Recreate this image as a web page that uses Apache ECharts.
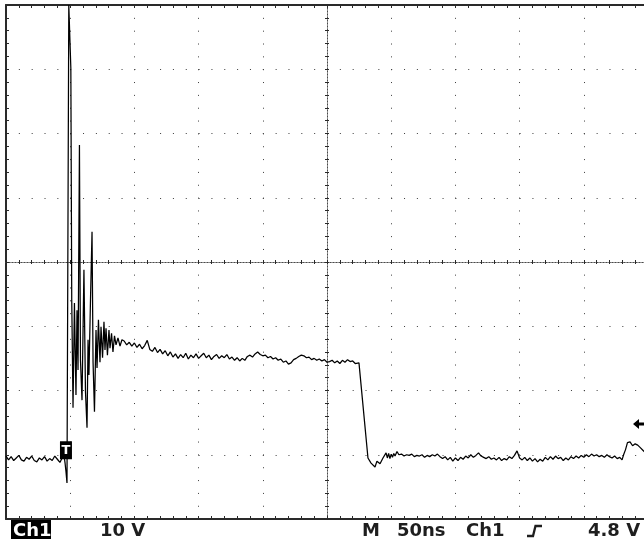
<!DOCTYPE html>
<html>
<head>
<meta charset="utf-8">
<script src="https://cdn.jsdelivr.net/npm/echarts@6/dist/echarts.min.js"></script>
<style>
  html, body { margin: 0; padding: 0; background: #fff; }
  #chart { width: 644px; height: 544px; }
</style>
</head>
<body>
<div id="chart"></div>
<script>
// screen: 10 div x 50 ns, 8 div x 10 V; time relative to screen centre
const timeMin = -250, timeMax = 250, timeStep = 50;
const voltMin = -40, voltMax = 40, voltStep = 10;
const triggerLevel = -25.2; // 4.8 V above the ground line
const triggerMark = [-203.3, -29.3];

// [ns, V]
const preTrigger = [
  [-250, -30.2], [-248, -30.8], [-246, -30.3], [-244, -30.9], [-242, -30.5], [-240, -30.1],
  [-238, -30.8], [-236, -31.0], [-234, -30.4], [-232, -30.7], [-230, -30.2], [-228, -30.9],
  [-226, -31.1], [-224, -30.5], [-222, -30.8], [-220, -30.3], [-218, -31.0], [-216, -30.6],
  [-214, -30.9], [-212, -30.2], [-210, -30.7], [-208, -31.2], [-206, -30.4], [-205, -29.8],
  [-204, -31.3]
];
const triggerEdge = [
  [-203.3, -32.6], [-202.5, -34.4], [-201.1, 40], [-200.0, 40], [-199.5, 30.2], [-198.8, -5.9]
];
const ringing = [
  [-197.8, -22.7], [-196.7, -6.4], [-195.5, -20.7], [-194.7, -7.5], [-193.9, -16.8],
  [-192.8, 18.2], [-192.0, -15.3], [-190.8, -21.5], [-190.0, -10.6], [-189.3, -1.2],
  [-188.1, -20.2], [-186.9, -25.8], [-186.1, -12.1], [-185.4, -17.6], [-184.2, -5.9],
  [-183.0, 4.7], [-182.2, -15.6], [-181.1, -23.3], [-179.9, -10.6], [-179.1, -16.5],
  [-178.0, -9.0], [-176.8, -15.6], [-176.0, -10.1], [-174.8, -14.9], [-173.7, -9.3],
  [-172.9, -13.7], [-172.1, -10.3], [-171.0, -14.5], [-169.8, -10.6], [-169.0, -13.4],
  [-167.8, -11.1], [-166.7, -14.0], [-165.5, -11.5], [-164.3, -12.9], [-162.8, -11.8],
  [-161.2, -13.1], [-159.7, -12.1]
];
const plateau = [
  [-158, -12.3], [-156, -12.9], [-154, -12.5], [-152, -13.1], [-150, -12.6], [-148, -13.3],
  [-146, -12.8], [-144, -13.5], [-142, -13.0], [-140, -12.2], [-138, -13.6], [-136, -13.9],
  [-134, -13.3], [-132, -14.1], [-130, -13.6], [-128, -14.3], [-126, -13.8], [-124, -14.6],
  [-122, -14.0], [-120, -14.8], [-118, -14.3], [-116, -15.0], [-114, -14.4], [-112, -14.9],
  [-110, -14.2], [-108, -15.1], [-106, -14.5], [-104, -14.9], [-102, -14.3], [-100, -15.0],
  [-98, -14.6], [-96, -14.2], [-94, -14.9], [-92, -14.5], [-90, -15.2], [-88, -14.7],
  [-86, -14.4], [-84, -15.0], [-82, -14.6], [-80, -14.9], [-78, -14.4], [-76, -15.1],
  [-74, -14.8], [-72, -15.3], [-70, -14.9], [-68, -15.4], [-66, -15.0], [-64, -15.3],
  [-62, -14.7], [-60, -14.5], [-58, -14.8], [-56, -14.3], [-54, -14.0], [-52, -14.4],
  [-50, -14.6], [-48, -14.5], [-46, -14.9], [-44, -14.7], [-42, -15.1], [-40, -14.9],
  [-38, -15.3], [-36, -15.1], [-34, -15.6], [-32, -15.4], [-30, -15.9], [-28, -15.7],
  [-26, -15.2], [-24, -15.0], [-22, -14.7], [-20, -14.5], [-18, -14.6], [-16, -14.9],
  [-14, -14.8], [-12, -15.2], [-10, -15.0], [-8, -15.3], [-6, -15.1], [-4, -15.4],
  [-2, -15.2], [0, -15.6], [2, -15.5], [4, -15.3], [6, -15.7], [8, -15.4],
  [10, -15.8], [12, -15.3], [14, -15.6], [16, -15.2], [18, -15.5], [20, -15.4],
  [22, -15.8], [23.5, -16.0]
];
const fallingEdge = [
  [24.9, -15.7], [31.9, -30.5], [34.3, -31.3], [37.4, -31.9], [38.9, -31.0],
  [41.3, -31.4], [43.6, -30.5]
];
const tail = [
  [45, -30.2], [46, -29.7], [47, -30.5], [48, -29.8], [49, -30.6], [50, -29.9],
  [51, -30.4], [52, -29.8], [53, -30.2], [54.5, -29.5], [56, -30.0], [58, -29.9],
  [60, -30.2], [62, -30.0], [64, -30.1], [66, -29.9], [68, -30.3], [70, -30.1],
  [72, -30.2], [74, -30.0], [76, -30.4], [78, -30.1], [80, -30.3], [82, -30.0],
  [84, -30.2], [86, -29.9], [88, -30.3], [90, -30.6], [92, -30.3], [94, -30.8],
  [96, -30.4], [98, -31.0], [100, -30.5], [102, -30.9], [104, -30.4], [106, -30.7],
  [108, -30.2], [110, -30.5], [112, -30.0], [114, -30.4], [116, -30.1], [118, -29.7],
  [120, -30.2], [122, -30.4], [124, -30.6], [126, -30.3], [128, -30.7], [130, -30.5],
  [132, -30.8], [134, -30.4], [136, -30.9], [138, -30.6], [140, -30.8], [142, -30.3],
  [144, -30.6], [146, -30.1], [148, -29.4], [150, -30.5], [152, -30.8], [154, -30.4],
  [156, -30.9], [158, -30.5], [160, -31.0], [162, -30.6], [164, -31.1], [166, -30.7],
  [168, -31.0], [170, -30.4], [172, -30.8], [174, -30.3], [176, -30.7], [178, -30.2],
  [180, -30.6], [182, -30.4], [184, -30.9], [186, -30.5], [188, -30.8], [190, -30.3],
  [192, -30.6], [194, -30.2], [196, -30.5], [198, -30.1], [200, -30.4], [202, -30.0],
  [204, -30.3], [206, -29.9], [208, -30.2], [210, -30.0], [212, -30.3], [214, -30.1],
  [216, -30.4], [218, -30.0], [220, -30.3], [222, -30.5], [224, -30.2], [226, -30.6],
  [228, -30.4], [229.8, -30.8], [231, -30.0], [232.5, -29.2], [234, -28.1], [236, -28.0],
  [238, -28.6], [240, -28.3], [242, -28.5], [244, -28.9], [246, -29.3], [248, -29.7],
  [250, -30.0]
];

// readout line under the screen
const readoutChannel = 'Ch1';
const readoutVolts = '10 V';
const readoutTime = ['M', '50ns', 'Ch1'];
const readoutTrigger = '4.8 V';

const trace = [...preTrigger, ...triggerEdge, ...ringing, ...plateau, ...fallingEdge, ...tail];

const chart = echarts.init(document.getElementById('chart'));

const ink = '#1e1e1e';
const gridDots = { color: '#3c3c3c', width: 1, type: [1, 11.84] };
const borderLine = { color: '#2a2a2a', width: 2 };
const tickLine = { color: '#2a2a2a', width: 1 };
const centreLine = { color: '#4a4a4a', width: 1, type: [1, 2] };
const font = '"DejaVu Sans", sans-serif';

const border = (extra) => Object.assign({
  type: 'value',
  axisLabel: { show: false },
  axisTick: { show: true, inside: true, length: 3, lineStyle: tickLine },
  minorTick: { show: true, splitNumber: 5, length: 3, lineStyle: tickLine },
  axisLine: { onZero: false, lineStyle: borderLine },
  splitLine: { show: false },
}, extra);

const centre = (extra) => Object.assign({
  type: 'value',
  axisLabel: { show: false },
  axisTick: { show: true, inside: true, length: 2, lineStyle: tickLine },
  minorTick: { show: true, splitNumber: 5, length: 2, lineStyle: tickLine },
  axisLine: { onZero: true, onZeroAxisIndex: 0, lineStyle: centreLine },
  splitLine: { show: false },
}, extra);

const xRange = { min: timeMin, max: timeMax, interval: timeStep };
const yRange = { min: voltMin, max: voltMax, interval: voltStep };

const textStyle = (text, x, fill) => ({
  type: 'text',
  z: 100,
  style: {
    text, x, y: 531, fill: fill || ink,
    font: 'bold 18px ' + font,
    align: 'left', verticalAlign: 'middle',
    textAlign: 'left', textVerticalAlign: 'middle',
  },
});

chart.setOption({
  animation: false,
  backgroundColor: '#fff',
  grid: { left: 6, top: 5, width: 642, height: 514, outerBoundsMode: 'none', containLabel: false },
  xAxis: [
    border({ ...xRange, position: 'bottom', splitLine: { show: true, lineStyle: gridDots } }),
    border({ ...xRange, position: 'top' }),
    centre({ ...xRange, position: 'bottom' }),
    centre({ ...xRange, position: 'top' }),
  ],
  yAxis: [
    border({ ...yRange, position: 'left', splitLine: { show: true, lineStyle: gridDots } }),
    centre({ ...yRange, position: 'left' }),
    centre({ ...yRange, position: 'right' }),
  ],
  series: [{
    type: 'line',
    xAxisIndex: 0,
    yAxisIndex: 0,
    data: trace,
    showSymbol: false,
    symbol: 'none',
    clip: true,
    lineStyle: { color: '#000', width: 1.25 },
    z: 10,
    markPoint: {
      silent: true,
      z: 20,
      data: [
        {
          coord: triggerMark,
          symbol: 'rect',
          symbolSize: [12, 18],
          itemStyle: { color: '#000' },
          label: { show: true, formatter: 'T', color: '#fff', fontWeight: 'bold', fontSize: 13, fontFamily: font, position: 'inside' },
        },
        {
          coord: [243, triggerLevel],
          symbol: 'path://M0,5 L6,0 L6,3.5 L12,3.5 L12,6.5 L6,6.5 L6,10 Z',
          symbolSize: [12, 10],
          itemStyle: { color: '#000' },
          label: { show: false },
        },
      ],
    },
  }],
  graphic: {
    elements: [
      { type: 'rect', z: 99, shape: { x: 11, y: 520, width: 40, height: 19 }, style: { fill: '#000' } },
      textStyle(readoutChannel, 13, '#fff'),
      textStyle(readoutVolts, 100),
      textStyle(readoutTime[0], 362),
      textStyle(readoutTime[1], 397),
      textStyle(readoutTime[2], 466),
      {
        type: 'polyline', z: 100,
        shape: { points: [[527, 536], [533, 536], [535.5, 526], [542, 526]] },
        style: { stroke: ink, lineWidth: 2.3, fill: null },
      },
      textStyle(readoutTrigger, 588),
    ],
  },
});
</script>
</body>
</html>
